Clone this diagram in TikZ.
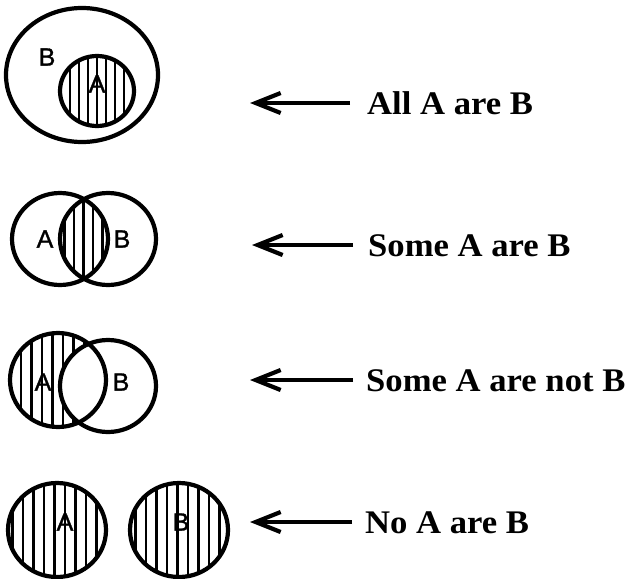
\documentclass[tikz,border=0pt]{standalone}
\usepackage{fontspec}
\setmainfont[FakeStretch=1.05]{Liberation Serif}
\newfontfamily\lettersans[FakeBold=1.2]{Liberation Sans}
\usetikzlibrary{arrows.meta}
\begin{document}
\begin{tikzpicture}[x=1pt,y=-1pt,
  outline/.style={line width=4.2pt},
  hatch/.style={line width=2.8pt},
  arr/.style={line width=4pt,-{Straight Barb[length=25pt,width=20pt,line width=4.2pt]}},
  lbl/.style={anchor=base west,inner sep=0pt,font=\fontsize{33}{36}\selectfont\bfseries},
  let/.style={inner sep=0pt,font=\lettersans\fontsize{25}{27}\selectfont}]
\useasboundingbox (0,0) rectangle (628,578);

% ---------- Diagram 1: All A are B
\begin{scope}
  \clip (97,91) ellipse [x radius=37pt,y radius=35pt];
  \foreach \x in {52,61,...,150} \draw[hatch] (\x,40) -- (\x,140);
\end{scope}
\draw[outline] (82,75) ellipse [x radius=76pt,y radius=67pt];
\draw[outline] (97,91) ellipse [x radius=37pt,y radius=35pt];
\node[let] (b1) at (47,57) {B};
\node[let] (a1) at (97,84) {A};

% ---------- Diagram 2: Some A are B
\begin{scope}
  \clip (60,239) ellipse [x radius=48pt,y radius=46pt];
  \clip (108,239) ellipse [x radius=48pt,y radius=46pt];
  \foreach \x in {55,64.5,...,120} \draw[hatch] (\x,180) -- (\x,300);
\end{scope}
\draw[outline] (60,239) ellipse [x radius=48pt,y radius=46pt];
\draw[outline] (108,239) ellipse [x radius=48pt,y radius=46pt];
\node[let] (a2) at (45,239) {A};
\node[let] (b2) at (122,239) {B};

% ---------- Diagram 3: Some A are not B
\begin{scope}
  \clip (58,380) ellipse [x radius=48pt,y radius=47pt];
  \foreach \x in {0,10.5,...,120} \draw[hatch] (\x,320) -- (\x,440);
  \fill[white] (108,386) ellipse [x radius=48pt,y radius=46pt];
\end{scope}
\draw[outline] (58,380) ellipse [x radius=48pt,y radius=47pt];
\draw[outline] (108,386) ellipse [x radius=48pt,y radius=46pt];
\node[let] (a3) at (43,382) {A};
\node[let] (b3) at (121,382) {B};

% ---------- Diagram 4: No A are B
\begin{scope}
  \clip (57,530) ellipse [x radius=49pt,y radius=47pt];
  \foreach \x in {2,12.5,...,120} \draw[hatch] (\x,470) -- (\x,590);
\end{scope}
\begin{scope}
  \clip (179,530) ellipse [x radius=49pt,y radius=47pt];
  \foreach \x in {125,135.5,...,240} \draw[hatch] (\x,470) -- (\x,590);
\end{scope}
\draw[outline] (57,530) ellipse [x radius=49pt,y radius=47pt];
\draw[outline] (179,530) ellipse [x radius=49pt,y radius=47pt];
\node[let] (a4) at (65,522) {A};
\node[let] (b4) at (181,522) {B};

% ---------- Labels and arrows
\node[lbl] (l1) at (367,114) {All A are B};
\node[lbl] (l2) at (368,256) {Some A are B};
\node[lbl] (l3) at (366,391) {Some A are not B};
\node[lbl] (l4) at (365,533) {No A are B};

\coordinate (s1) at (350,103); \coordinate (t1) at (250,103);
\coordinate (s2) at (353,245); \coordinate (t2) at (252,245);
\coordinate (s3) at (353,380); \coordinate (t3) at (250,380);
\coordinate (s4) at (352,522); \coordinate (t4) at (250,522);
\draw[arr] (s1) -- (t1);
\draw[arr] (s2) -- (t2);
\draw[arr] (s3) -- (t3);
\draw[arr] (s4) -- (t4);
\end{tikzpicture}
\end{document}
